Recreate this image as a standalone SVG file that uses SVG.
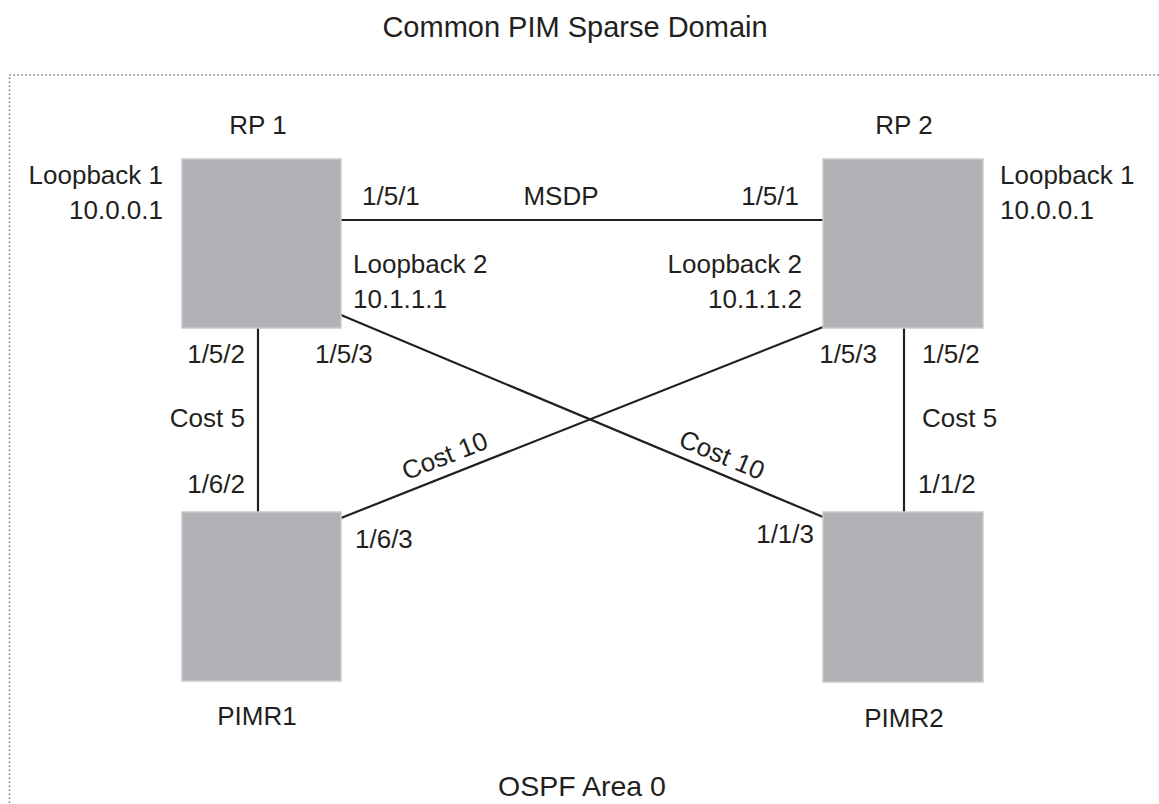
<svg xmlns="http://www.w3.org/2000/svg" width="1159" height="804" viewBox="0 0 1159 804">
<style>
text{font-family:"Liberation Sans",Arial,Helvetica,sans-serif;font-size:26px;fill:#231f20}
.title{font-size:29px}
.box{fill:#b1b2b6;stroke:#c9cacc;stroke-width:1.5}
.link{stroke:#231f20;stroke-width:2.2;fill:none}
.border{stroke:#777;stroke-width:1.5;stroke-dasharray:1.5 2.5;fill:none}
.e{text-anchor:end}
.m{text-anchor:middle}
</style>
<rect width="1159" height="804" fill="#fff"/>
<path class="border" d="M1159,75 H9.5 V804"/>
<text class="title m" x="575" y="37">Common PIM Sparse Domain</text>
<text class="m" x="582" y="796" style="font-size:28.5px">OSPF Area 0</text>
<g id="connectors">
<line class="link" x1="341" y1="220" x2="823" y2="220"/>
<line class="link" x1="258" y1="328" x2="258" y2="512"/>
<line class="link" x1="904" y1="328" x2="904" y2="512"/>
<line class="link" x1="341" y1="315" x2="823" y2="517"/>
<line class="link" x1="823" y1="327" x2="341" y2="518"/>
<text x="362" y="205">1/5/1</text>
<text class="m" x="561" y="205">MSDP</text>
<text class="e" x="799" y="205">1/5/1</text>
<text class="e" x="245" y="363">1/5/2</text>
<text x="315" y="363">1/5/3</text>
<text class="e" x="245" y="427">Cost 5</text>
<text class="e" x="245" y="493">1/6/2</text>
<text class="e" x="877" y="363">1/5/3</text>
<text x="922" y="363">1/5/2</text>
<text x="922" y="427">Cost 5</text>
<text x="918" y="493">1/1/2</text>
<text x="355" y="548">1/6/3</text>
<text class="e" x="814" y="543">1/1/3</text>
<text class="m" transform="translate(448,464) rotate(-21.5)">Cost 10</text>
<text class="m" transform="translate(718.5,463) rotate(22.6)">Cost 10</text>
</g>
<g id="rp1">
<rect class="box" x="182" y="159" width="159" height="169"/>
<text class="m" x="258" y="134">RP 1</text>
<text class="e" x="163" y="184">Loopback 1</text>
<text class="e" x="163" y="219">10.0.0.1</text>
<text x="353" y="273">Loopback 2</text>
<text x="353" y="308">10.1.1.1</text>
</g>
<g id="rp2">
<rect class="box" x="823" y="159" width="160" height="169"/>
<text class="m" x="904" y="134">RP 2</text>
<text x="1000" y="184">Loopback 1</text>
<text x="1000" y="219">10.0.0.1</text>
<text class="e" x="802" y="273">Loopback 2</text>
<text class="e" x="802" y="308">10.1.1.2</text>
</g>
<g id="pimr1">
<rect class="box" x="182" y="512" width="159" height="169"/>
<text class="m" x="257" y="725">PIMR1</text>
</g>
<g id="pimr2">
<rect class="box" x="823" y="512" width="160" height="170"/>
<text class="m" x="904" y="727">PIMR2</text>
</g>
</svg>
